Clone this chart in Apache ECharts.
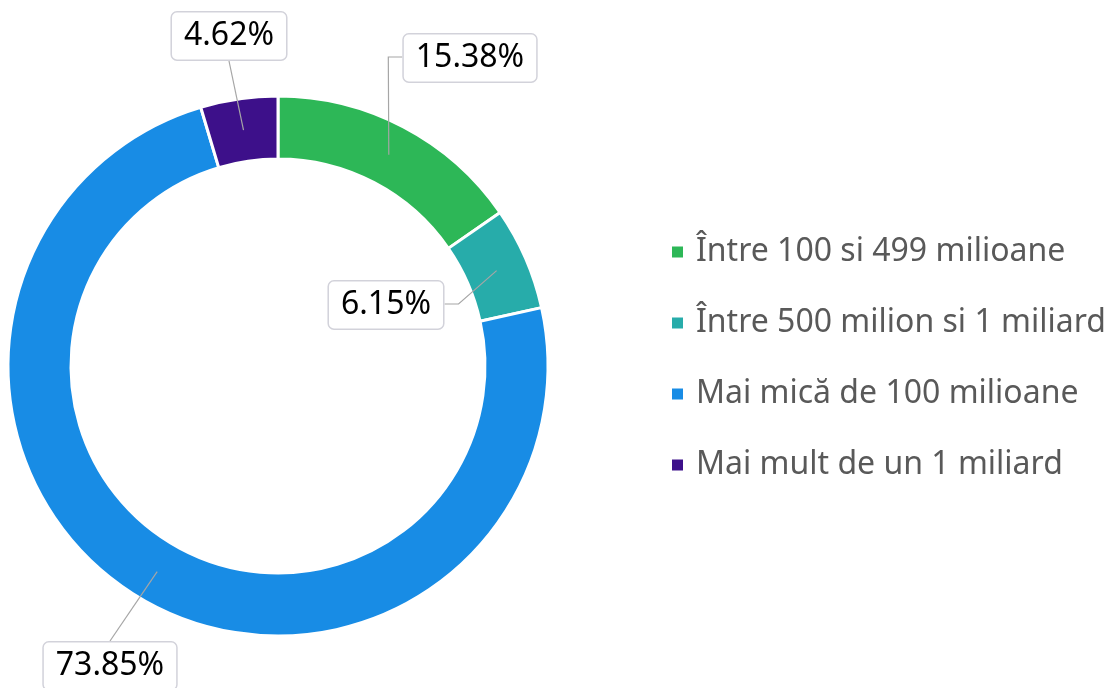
<!DOCTYPE html>
<html>
<head>
<meta charset="utf-8">
<style>
	html, body { margin: 0; padding: 0; background: #fff; }
	#chart { width: 1108px; height: 688px; }
</style>
<script src="https://cdn.jsdelivr.net/npm/echarts@6/dist/echarts.min.js"></script>
</head>
<body>
<div id="chart"></div>
<script>
// date din grafic
var categories = ['Între 100 si 499 milioane', 'Între 500 milion si 1 miliard', 'Mai mică de 100 milioane', 'Mai mult de un 1 miliard'];
var shares = [15.38, 6.15, 73.85, 4.62];
var colors = ['#2DB757', '#27ACAA', '#188CE5', '#3D108A'];

// asezarea etichetelor (centrul casetei) si felul liniei de legatura
var center = [278, 366];
var rInner = 207, rOuter = 270;
var rMid = (rInner + rOuter) / 2;
var labelSpots = [
	{ x: 470, y: 58, kind: 'side' },
	{ x: 386, y: 305, kind: 'side' },
	{ x: 110, y: 666, kind: 'edge' },
	{ x: 229, y: 36, kind: 'edge' }
];

var myChart = echarts.init(document.getElementById('chart'));

var pieData = categories.map(function (name, i) {
	return { name: name, value: shares[i], itemStyle: { color: colors[i] } };
});

var option = {
	animation: false,
	legend: {
		orient: 'vertical',
		left: 670,
		top: 234,
		padding: 0,
		itemWidth: 13,
		itemHeight: 13,
		itemGap: 35,
		icon: 'rect',
		textStyle: {
			fontFamily: 'Noto Sans',
			fontSize: 32,
			lineHeight: 36,
			color: '#595959',
			padding: [0, 0, 0, 7]
		},
		data: categories
	},
	series: [{
		// inelul colorat
		type: 'pie',
		center: center,
		radius: [rInner, rOuter],
		startAngle: 90,
		clockwise: true,
		itemStyle: { borderColor: '#fff', borderWidth: 3 },
		emphasis: { disabled: true },
		label: { show: false },
		labelLine: { show: false },
		data: pieData
	}, {
		// strat transparent doar pt etichete, liniile pornesc din mijlocul inelului
		type: 'pie',
		z: 5,
		silent: true,
		center: center,
		radius: [rInner, rMid],
		startAngle: 90,
		clockwise: true,
		avoidLabelOverlap: false,
		itemStyle: { color: 'rgba(0,0,0,0)', borderWidth: 0 },
		emphasis: { disabled: true },
		label: {
			show: true,
			position: 'outside',
			formatter: function (p) { return p.value.toFixed(2) + '%'; },
			fontFamily: 'Noto Sans',
			fontSize: 32,
			color: '#000',
			backgroundColor: '#fff',
			borderColor: '#d2d2da',
			borderWidth: 1.5,
			borderRadius: 5,
			padding: [8, 12, 7, 12]
		},
		labelLine: {
			show: true,
			showAbove: true,
			length: 20,
			length2: 10,
			lineStyle: { color: '#a6a6a6', width: 1.2 }
		},
		labelLayout: function (params) {
			var spot = labelSpots[params.dataIndex];
			var s = params.labelLinePoints[0];
			var w = params.labelRect.width, h = params.labelRect.height;
			var pts;
			if (spot.kind === 'side') {
				var left = spot.x > s[0] ? false : true;
				var sideX = left ? spot.x + w / 2 : spot.x - w / 2;
				var elbowX = left ? sideX + 14 : sideX - 14;
				pts = [s, [elbowX, spot.y - 1], [sideX, spot.y - 1]];
			} else {
				var edgeY = spot.y > s[1] ? spot.y - h / 2 : spot.y + h / 2;
				pts = [s, [spot.x, edgeY], [spot.x, edgeY]];
			}
			return {
				x: spot.x,
				y: spot.y,
				align: 'center',
				verticalAlign: 'middle',
				labelLinePoints: pts
			};
		},
		data: categories.map(function (name, i) { return { name: name, value: shares[i] }; })
	}]
};

myChart.setOption(option);
</script>
</body>
</html>
